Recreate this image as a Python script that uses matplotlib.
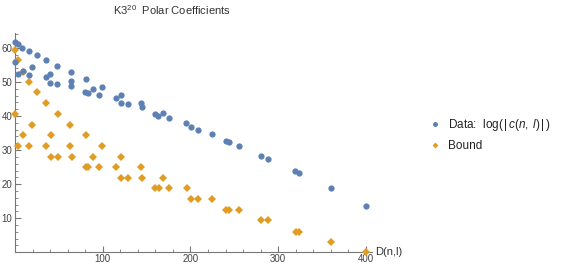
import matplotlib
matplotlib.use("Agg")
import matplotlib.pyplot as plt
from matplotlib.ticker import MultipleLocator
from matplotlib.lines import Line2D

plt.rcParams['font.family'] = ['Liberation Sans', 'DejaVu Sans']
plt.rcParams['mathtext.fontset'] = 'custom'
plt.rcParams['mathtext.rm'] = 'Liberation Sans'
plt.rcParams['mathtext.it'] = 'Liberation Sans:italic'

# Data: log(|c(n,l)|)
data_D = [0, 3.4, 8.4, 15.6, 24.7, 35.3, 48.2, 63.5,
          0, 8.8, 19.4, 3.4, 15.6, 35.3, 40.3, 40.3, 48.2, 63.5, 63.9, 81,
          79.8, 83.6, 88.6, 95.4, 99.5, 115.5, 120.5, 120.5, 128.5, 143.3,
          144.5, 159.3, 163.4, 168.4, 175.2, 195.3, 200.3, 208.7, 224.6,
          240.2, 243.7, 255.4, 280.8, 288.8, 319.6, 323.5, 360.3, 400]
data_logc = [61.6, 61.0, 60.0, 59.0, 57.9, 56.4, 54.7, 52.9,
             55.9, 53.3, 54.3, 52.2, 51.9, 51.3, 52.4, 49.7, 49.4, 50.2, 48.9, 50.8,
             46.9, 46.7, 47.9, 46.3, 48.6, 45.2, 46.1, 43.8, 43.4, 43.7,
             42.5, 40.5, 40.1, 40.9, 39.5, 37.8, 36.7, 36.0, 34.6,
             32.8, 32.3, 31.2, 28.4, 27.4, 24.0, 23.3, 18.9, 13.7]

# Bound
bound_D = [0, 3.4, 8.8, 16, 24.7, 35.7, 48.7, 0, 19.4, 63, 8.8, 40.7, 80.6,
           3.8, 16, 35.7, 63, 99.5, 40.7, 48.7, 64.6, 88.6, 120.5,
           80.6, 83.2, 95.4, 115.5, 120.5, 128.5, 143.7, 144.5, 168.8,
           159.3, 163.9, 176, 195.7, 200.7, 209, 224.6, 240.6, 243.7, 255.4,
           280.8, 288.8, 320.4, 324.2, 360.3, 400]
bound_val = [59.3, 56.4, 53.0, 49.9, 46.9, 43.7, 40.6, 40.6, 37.5, 37.5, 34.4, 34.4, 34.4,
             31.3, 31.3, 31.3, 31.3, 31.3, 28.1, 28.1, 28.1, 28.1, 28.1,
             24.9, 24.9, 24.9, 24.9, 21.9, 21.9, 24.9, 21.9, 21.9,
             18.8, 18.8, 18.8, 18.8, 15.5, 15.5, 15.5, 12.4, 12.4, 12.4,
             9.4, 9.4, 6.0, 6.0, 3.0, 0.0]

blue = '#5E81B5'
orange = '#E19C24'
axc = '#777777'
txtc = '#444444'

W, H = 581, 267
fig = plt.figure(figsize=(W / 100, H / 100), dpi=100)
ax = fig.add_axes([15 / W, 1 - 252.3 / H, (372 - 15) / W, (252.3 - 32.5) / H])

ax.plot(bound_D, bound_val, linestyle='none', marker='D', markersize=4.0,
        color=orange, markeredgewidth=0, clip_on=False, zorder=3)
ax.plot(data_D, data_logc, linestyle='none', marker='o', markersize=4.5,
        color=blue, markeredgewidth=0, clip_on=False, zorder=3)

ax.set_xlim(0, 407)
ax.set_ylim(0, 64.5)
for s in ['top', 'right']:
    ax.spines[s].set_visible(False)
for s in ['left', 'bottom']:
    ax.spines[s].set_color(axc)
    ax.spines[s].set_linewidth(0.8)

ax.xaxis.set_major_locator(MultipleLocator(100))
ax.xaxis.set_minor_locator(MultipleLocator(20))
ax.yaxis.set_major_locator(MultipleLocator(10))
ax.yaxis.set_minor_locator(MultipleLocator(2))
ax.set_xticks([100, 200, 300, 400])
ax.set_yticks([10, 20, 30, 40, 50, 60])
ax.tick_params(which='major', direction='in', length=4, width=0.8, color=axc,
               labelsize=7, labelcolor=txtc, pad=2)
ax.tick_params(which='minor', direction='in', length=2.2, width=0.6, color=axc)
ax.tick_params(axis='x', which='major', pad=1.5)

fig.text(375 / W, 1 - 252.3 / H, 'D(n,l)', fontsize=8, color='#333333',
         ha='left', va='center')

fig.text(113 / W, 1 - 10 / H, r'K3$^{20}$  Polar Coefficients', fontsize=8,
         color='#333333', ha='left', va='center')

handles = [Line2D([], [], linestyle='none', marker='o', markersize=3.6,
                  color=blue, markeredgewidth=0),
           Line2D([], [], linestyle='none', marker='D', markersize=3.0,
                  color=orange, markeredgewidth=0)]
labels = [r'Data:  log$(\,|\,c(n,\;l)\,|\,)$', 'Bound']
fig.legend(handles, labels, loc='center left',
           bbox_to_anchor=(424 / W, 1 - 134.5 / H), frameon=False,
           fontsize=8.5, handlelength=1.0, handletextpad=0.6,
           labelspacing=0.55, borderaxespad=0, labelcolor='#222222')

fig.savefig('out.png', dpi=100)
